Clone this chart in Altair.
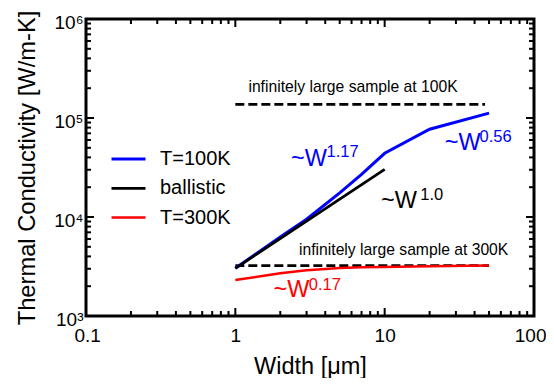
import altair as alt
import pandas as pd

# ---------------- data ----------------
series_names = ["T=100K", "ballistic", "T=300K"]
series_colors = ["#0000ff", "#000000", "#ff0000"]

width_100K = [1, 2, 3, 5, 7, 10, 20, 50]
k_100K = [3030, 6300, 9500, 17500, 27000, 44000, 77000, 112000]

width_ballistic = [1, 10]
k_ballistic = [3030, 30300]

width_300K = [1, 2, 3, 5, 7, 10, 20, 50]
k_300K = [2310, 2700, 2900, 3050, 3100, 3130, 3180, 3230]

bulk100_w = [1, 47]
bulk100_k = [137000, 137000]
bulk300_w = [1, 50]
bulk300_k = [3220, 3220]

bulk_text = ["infinitely large sample at 100K", "infinitely large sample at 300K"]
bulk_text_w = [6.14, 13.4]
bulk_text_k = [184000, 4130]

ann_text = ["~W", "1.17", "~W", "0.56", "~W", "1.0", "~W", "0.17"]
ann_w = [2.36, 4.08, 25.3, 43.2, 9.46, 17.3, 1.80, 3.10]
ann_k = [33100, 40400, 47500, 57700, 12200, 14900, 1570, 1830]
ann_color = ["#0000ff"] * 4 + ["#000000"] * 2 + ["#ff0000"] * 2
ann_size = [23.5, 16.5, 23.5, 16.5, 23.5, 16.5, 23.5, 16.5]

x_ticks = [0.1, 1, 10, 100]
y_ticks = [1e3, 1e4, 1e5, 1e6]
x_minor = [m * d for d in (0.1, 1, 10) for m in range(2, 10)]
y_minor = [m * d for d in (1e3, 1e4, 1e5) for m in range(2, 10)]

# ---------------- chart ----------------
W, H = 448, 297
FONT = "Liberation Sans"

xs = alt.Scale(type="log", domain=[0.1, 100], nice=False)
ys = alt.Scale(type="log", domain=[1e3, 1e6], nice=False)

xaxis = alt.Axis(
    values=x_ticks, title="Width [μm]", grid=False, ticks=False, domain=False,
    labelFontSize=19, labelPadding=10, labelColor="black",
    labelFlush=True, labelFlushOffset=12,
    labelExpr="datum.value < 0.5 ? '0.1' : format(datum.value, 'd')",
    titleFontSize=23.5, titleFontWeight="normal", titleColor="black",
    titleX=W / 2, titleY=57, titleBaseline="alphabetic",
)
yaxis = alt.Axis(
    values=y_ticks, title="Thermal Conductivity [W/m-K]", grid=False, ticks=False,
    domain=False, labelFontSize=19, labelPadding=3, labelColor="black",
    labelOffset=3, labelFlush=False,
    labelExpr="datum.value < 5000 ? '10³' : datum.value < 50000 ? '10⁴' : datum.value < 500000 ? '10⁵' : '10⁶'",
    titleFontSize=23.7, titleFontWeight="normal", titleColor="black",
    titleX=-52, titleY=H / 2, titleBaseline="alphabetic", titleAngle=270,
)


def X():
    return alt.X("w:Q", scale=xs, axis=xaxis)


def Y():
    return alt.Y("k:Q", scale=ys, axis=yaxis)


lines_df = pd.concat([
    pd.DataFrame({"w": width_100K, "k": k_100K, "series": series_names[0]}),
    pd.DataFrame({"w": width_ballistic, "k": k_ballistic, "series": series_names[1]}),
    pd.DataFrame({"w": width_300K, "k": k_300K, "series": series_names[2]}),
])

lines = alt.Chart(lines_df).mark_line().encode(
    x=X(), y=Y(),
    color=alt.Color("series:N", scale=alt.Scale(domain=series_names, range=series_colors),
                    legend=alt.Legend(title=None)),
    strokeWidth=alt.StrokeWidth("series:N", scale=alt.Scale(domain=series_names, range=[3, 2.5, 3]),
                                legend=None),
)

dash100 = alt.Chart(pd.DataFrame({"w": bulk100_w, "k": bulk100_k})).mark_line(
    color="black", strokeWidth=2.7, strokeDash=[9, 4]).encode(x=X(), y=Y())
dash300 = alt.Chart(pd.DataFrame({"w": bulk300_w, "k": bulk300_k})).mark_line(
    color="black", strokeWidth=2.7, strokeDash=[9, 4]).encode(x=X(), y=Y())

bulk_labels = alt.Chart(pd.DataFrame({"w": bulk_text_w, "k": bulk_text_k, "t": bulk_text})).mark_text(
    align="center", baseline="alphabetic", fontSize=15.7, color="black").encode(
    x=X(), y=Y(), text="t:N")

ann = alt.Chart(pd.DataFrame({"w": ann_w, "k": ann_k, "t": ann_text, "c": ann_color, "s": ann_size})).mark_text(
    align="left", baseline="alphabetic").encode(
    x=X(), y=Y(), text="t:N",
    color=alt.Color("c:N", scale=None),
    size=alt.Size("s:Q", scale=None))


def tick_layer(vals, side, length):
    df = pd.DataFrame({("w" if side in ("bottom", "top") else "k"): vals})
    m = alt.Chart(df).mark_rule(color="black", strokeWidth=2)
    if side == "bottom":
        return m.encode(x=X(), y=alt.value(H), y2=alt.value(H - length))
    if side == "top":
        return m.encode(x=X(), y=alt.value(0), y2=alt.value(length))
    if side == "left":
        return m.encode(y=Y(), x=alt.value(0), x2=alt.value(length))
    return m.encode(y=Y(), x=alt.value(W), x2=alt.value(W - length))


tick_layers = []
for side in ("bottom", "top"):
    tick_layers.append(tick_layer(x_ticks, side, 8))
    tick_layers.append(tick_layer(x_minor, side, 5))
for side in ("left", "right"):
    tick_layers.append(tick_layer(y_ticks, side, 8))
    tick_layers.append(tick_layer(y_minor, side, 5))

chart = alt.layer(
    dash100, dash300, lines, bulk_labels, ann, *tick_layers
).properties(
    width=W, height=H,
    autosize=alt.AutoSizeParams(type="none"),
    padding={"left": 78, "top": 11, "right": 12, "bottom": 62},
).configure(
    font=FONT,
).configure_view(
    stroke="black", strokeWidth=3,
).configure_legend(
    orient="none", legendX=24, legendY=130,
    symbolType="stroke", symbolSize=1156, symbolStrokeWidth=3,
    labelFontSize=20, labelOffset=13, labelColor="black",
    clipHeight=20, rowPadding=9.3, padding=0,
)

chart.save("out.html", embed_options={"renderer": "svg", "actions": False})
